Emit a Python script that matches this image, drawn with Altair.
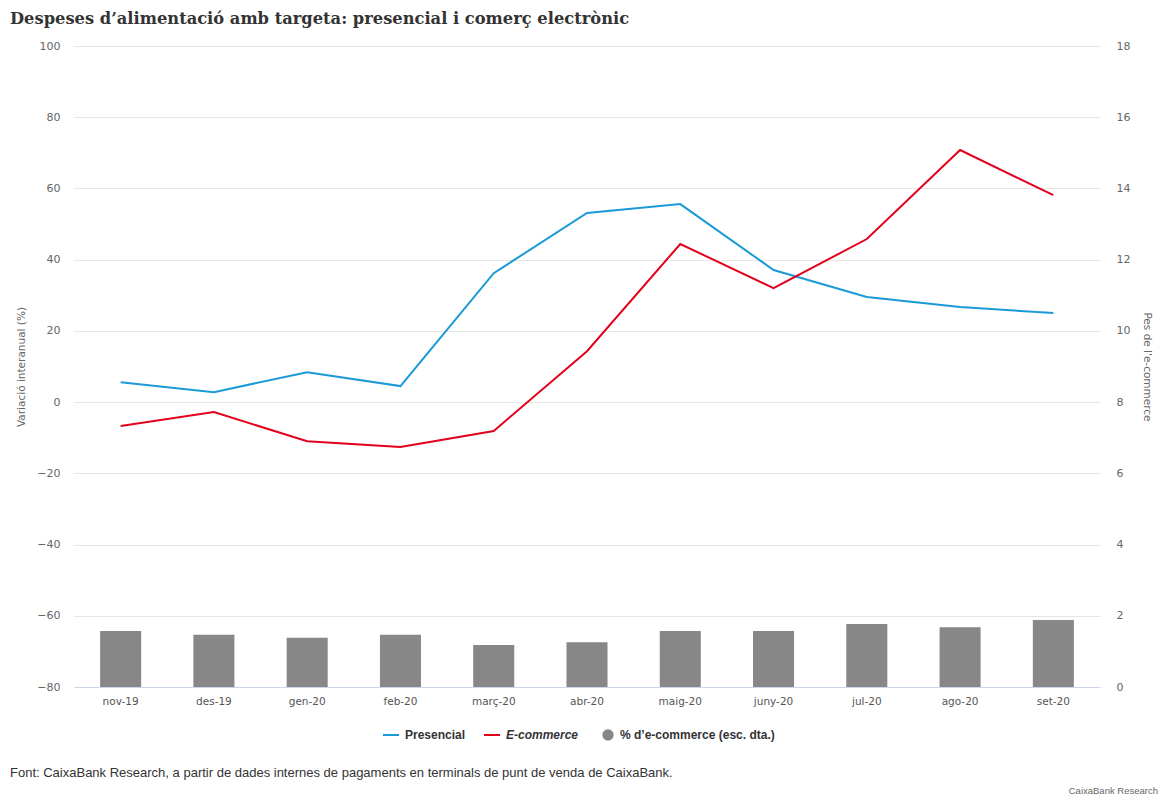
import altair as alt
import pandas as pd

months = ["nov-19", "des-19", "gen-20", "feb-20", "març-20", "abr-20",
          "maig-20", "juny-20", "jul-20", "ago-20", "set-20"]
presencial = [5.6, 2.8, 8.4, 4.5, 36.2, 53.1, 55.6, 37.1, 29.5, 26.7, 25.0]
ecommerce = [-6.7, -2.8, -11.0, -12.6, -8.1, 14.3, 44.4, 32.0, 45.8, 70.8, 58.1]
share = [1.57, 1.47, 1.38, 1.47, 1.18, 1.26, 1.57, 1.57, 1.77, 1.68, 1.88]

series_names = ["Presencial", "E-commerce"]
bar_name = "% d\u2019e-commerce (esc. dta.)"
title_text = "Despeses d\u2019alimentació amb targeta: presencial i comerç electrònic"
source_text = "Font: CaixaBank Research, a partir de dades internes de pagaments en terminals de punt de venda de CaixaBank."
credit_text = "CaixaBank Research"

lines_df = pd.DataFrame({
    "mes": months * 2,
    "serie": [series_names[0]] * len(months) + [series_names[1]] * len(months),
    "valor": presencial + ecommerce,
})
bars_df = pd.DataFrame({"mes": months, "pes": share, "serie": [bar_name] * len(months)})

W, H = 1026, 641
PL, PT, PR, PB = 66, 38, 60, 115

xenc = alt.X("mes:N", sort=months, title=None,
             scale=alt.Scale(paddingInner=0.56, paddingOuter=0.28),
             axis=alt.Axis(labelAngle=0, ticks=False, domainColor="#ccd6eb",
                           labelColor="#555", labelFont="DejaVu Sans", labelFontSize=10.5,
                           labelPadding=9, grid=False))

bars = alt.Chart(bars_df).mark_bar(color="#878787").encode(
    x=xenc,
    y=alt.Y("pes:Q", title="Pes de l'e-commerce",
            scale=alt.Scale(domain=[0, 18], nice=False, zero=True),
            axis=alt.Axis(orient="right", values=list(range(0, 19, 2)), grid=False,
                          domain=False, ticks=False, labelPadding=16,
                          labelColor="#666", labelFont="DejaVu Sans", labelFontSize=11,
                          titleColor="#666", titleFont="DejaVu Sans", titleFontSize=10.5,
                          titleFontWeight="normal", titlePadding=12)),
    fill=alt.Fill("serie:N", scale=alt.Scale(domain=[bar_name], range=["#878787"]),
                  legend=alt.Legend(title=None, orient="none", legendX=528, legendY=683,
                                    direction="horizontal", symbolType="circle",
                                    symbolSize=130, labelFont="Liberation Sans",
                                    labelFontSize=12, labelFontWeight="bold",
                                    labelColor="#333", symbolStrokeWidth=0, labelOffset=6)),
)

lines = alt.Chart(lines_df).mark_line(strokeWidth=2).encode(
    x=xenc,
    y=alt.Y("valor:Q", title="Variació interanual (%)",
            scale=alt.Scale(domain=[-80, 100], nice=False, zero=False),
            axis=alt.Axis(orient="left", values=list(range(-80, 101, 20)), grid=True,
                          gridColor="#e6e6e6", domain=False, ticks=False, labelPadding=14,
                          labelColor="#666", labelFont="DejaVu Sans", labelFontSize=11,
                          titleColor="#666", titleFont="DejaVu Sans", titleFontSize=10.5,
                          titleFontWeight="normal", titlePadding=10)),
    color=alt.Color("serie:N", sort=series_names,
                    scale=alt.Scale(domain=series_names, range=["#1a9ad6", "#e2001a"]),
                    legend=alt.Legend(title=None, orient="none", legendX=308, legendY=680,
                                      direction="horizontal", symbolType="stroke",
                                      symbolStrokeWidth=2, symbolSize=256, columnPadding=14,
                                      labelFont="Liberation Sans", labelFontSize=12,
                                      labelFontWeight="bold", labelColor="#333", labelOffset=5,
                                      labelFontStyle=alt.ExprRef("datum.label == 'E-commerce' ? 'italic' : 'normal'"))),
    order=alt.Order("mes_idx:Q"),
).transform_calculate(mes_idx="indexof(" + str(months).replace("'", '"') + ", datum.mes)")

notes_df = pd.DataFrame({"txt": [source_text]})
source = alt.Chart(notes_df).mark_text(align="left", baseline="middle", font="Liberation Sans",
                                       fontSize=13, color="#333").encode(
    x=alt.value(-64), y=alt.value(727), text="txt:N")
credit_df = pd.DataFrame({"txt": [credit_text]})
credit = alt.Chart(credit_df).mark_text(align="right", baseline="middle", font="Liberation Sans",
                                        fontSize=9.5, color="#666").encode(
    x=alt.value(W + 58), y=alt.value(745), text="txt:N")

chart = alt.layer(bars, lines, source, credit).resolve_scale(
    y="independent"
).properties(
    width=W, height=H,
    title=alt.TitleParams(text=title_text, anchor="start", frame="group", dx=-64,
                          font="DejaVu Serif", fontSize=16.3, fontWeight="bold",
                          color="#333", offset=13),
    autosize=alt.AutoSizeParams(type="none"),
    padding={"left": PL, "top": PT, "right": PR, "bottom": PB},
).configure_view(stroke=None)

chart.save("out.html", embed_options={"renderer": "svg", "actions": False})
